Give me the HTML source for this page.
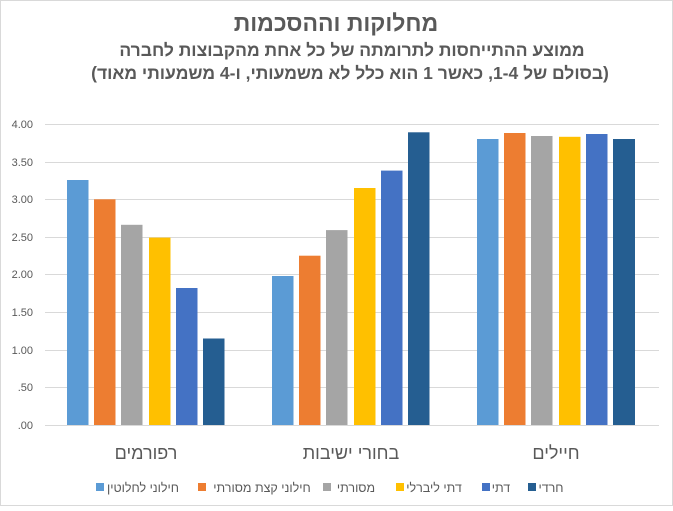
<!DOCTYPE html>
<html><head><meta charset="utf-8"><style>
html,body{margin:0;padding:0;background:#fff}
svg text{font-family:"Liberation Sans","Noto Sans CJK SC",sans-serif}
</style></head><body>
<svg width="673" height="506" viewBox="0 0 673 506" xmlns="http://www.w3.org/2000/svg">
<rect x="0.5" y="0.5" width="672" height="505" fill="#fff" stroke="#d9d9d9"/>
<g fill="#595959" font-weight="bold" text-anchor="middle" direction="rtl">
<text x="336" y="31" font-size="23">מחלוקות וההסכמות</text>
<text x="352" y="56" font-size="17.5">ממוצע ההתייחסות לתרומתה של כל אחת מהקבוצות לחברה</text>
<text x="350" y="79" font-size="17.5">(בסולם של 1-4, כאשר 1 הוא כלל לא משמעותי, ו-4 משמעותי מאוד)</text>
</g>
<g stroke="#d9d9d9" stroke-width="1">
<line x1="45" x2="659" y1="124.5" y2="124.5"/>
<line x1="45" x2="659" y1="162.5" y2="162.5"/>
<line x1="45" x2="659" y1="199.5" y2="199.5"/>
<line x1="45" x2="659" y1="237.5" y2="237.5"/>
<line x1="45" x2="659" y1="274.5" y2="274.5"/>
<line x1="45" x2="659" y1="312.5" y2="312.5"/>
<line x1="45" x2="659" y1="350.5" y2="350.5"/>
<line x1="45" x2="659" y1="387.5" y2="387.5"/>
<line x1="45" x2="659" y1="425.5" y2="425.5"/>
</g>
<g fill="#595959" font-size="11" text-anchor="end">
<text x="33" y="128">4.00</text><text x="33" y="166">3.50</text>
<text x="33" y="203">3.00</text><text x="33" y="241">2.50</text>
<text x="33" y="278">2.00</text><text x="33" y="316">1.50</text>
<text x="33" y="354">1.00</text><text x="33" y="391">.50</text>
<text x="33" y="429">.00</text>
</g>
<g>
<rect x="67" y="180" width="21.5" height="245" fill="#5b9bd5"/>
<rect x="94" y="199.3" width="21.5" height="225.7" fill="#ed7d31"/>
<rect x="121" y="224.8" width="21.5" height="200.2" fill="#a5a5a5"/>
<rect x="149" y="237.6" width="21.5" height="187.4" fill="#ffc000"/>
<rect x="176" y="288" width="21.5" height="137" fill="#4472c4"/>
<rect x="203" y="338.5" width="21.5" height="86.5" fill="#255e91"/>
<rect x="272" y="276" width="21.5" height="149" fill="#5b9bd5"/>
<rect x="299" y="255.7" width="21.5" height="169.3" fill="#ed7d31"/>
<rect x="326" y="230.1" width="21.5" height="194.9" fill="#a5a5a5"/>
<rect x="354" y="188" width="21.5" height="237" fill="#ffc000"/>
<rect x="381" y="170.6" width="21.5" height="254.4" fill="#4472c4"/>
<rect x="408" y="132.3" width="21.5" height="292.7" fill="#255e91"/>
<rect x="477" y="139" width="21.5" height="286" fill="#5b9bd5"/>
<rect x="504" y="133" width="21.5" height="292" fill="#ed7d31"/>
<rect x="531" y="136" width="21.5" height="289" fill="#a5a5a5"/>
<rect x="559" y="136.8" width="21.5" height="288.2" fill="#ffc000"/>
<rect x="586" y="134" width="21.5" height="291" fill="#4472c4"/>
<rect x="613" y="139" width="22" height="286" fill="#255e91"/>
</g>
<g fill="#595959" font-size="18" text-anchor="middle" direction="rtl">
<text x="146" y="459">רפורמים</text>
<text x="351" y="459">בחורי ישיבות</text>
<text x="556" y="459">חיילים</text>
</g>
<g>
<rect x="96" y="483" width="8" height="8" fill="#5b9bd5"/>
<rect x="198" y="483" width="8" height="8" fill="#ed7d31"/>
<rect x="323" y="483" width="8" height="8" fill="#a5a5a5"/>
<rect x="396" y="483" width="8" height="8" fill="#ffc000"/>
<rect x="482" y="483" width="8" height="8" fill="#4472c4"/>
<rect x="528" y="483" width="8" height="8" fill="#255e91"/>
</g>
<g fill="#595959" font-size="12.5" text-anchor="middle" direction="rtl">
<text x="143" y="492">חילוני לחלוטין</text>
<text x="262" y="492">חילוני קצת מסורתי</text>
<text x="356" y="492">מסורתי</text>
<text x="434" y="492">דתי ליברלי</text>
<text x="501" y="492">דתי</text>
<text x="551" y="492">חרדי</text>
</g>
</svg>
</body></html>
